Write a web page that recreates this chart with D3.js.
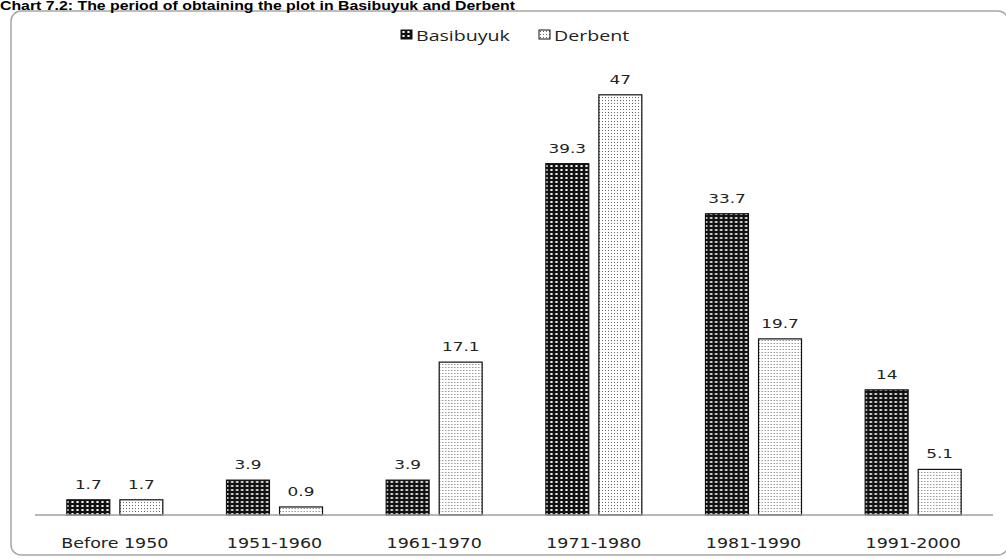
<!DOCTYPE html>
<html>
<head>
<meta charset="utf-8">
<script src="https://cdn.jsdelivr.net/npm/d3@7"></script>
<style>
  html, body { margin: 0; padding: 0; background: #fff; }
  svg { display: block; }
</style>
</head>
<body>
<div id="chart"></div>
<script>
;(function() {
  'use strict';

  var categories = ['Before 1950', '1951-1960', '1961-1970', '1971-1980', '1981-1990', '1991-2000'];
  var series = ['Basibuyuk', 'Derbent'];
  var basibuyuk = [1.7, 3.9, 3.9, 39.3, 33.7, 14];
  var derbent = [1.7, 0.9, 17.1, 47, 19.7, 5.1];
  var title = 'Chart 7.2: The period of obtaining the plot in Basibuyuk and Derbent';

  var width = 1006,
      height = 559;

  var svg = d3.select('#chart')
    .append('svg')
    .attr('width', width)
    .attr('height', height);

  var defs = svg.append('defs');

  // dark pattern: small white ovals on black
  var p1 = defs.append('pattern')
    .attr('id', 'pat-basi')
    .attr('patternUnits', 'userSpaceOnUse')
    .attr('width', 5)
    .attr('height', 4);
  p1.append('rect').attr('width', 5).attr('height', 4).attr('fill', '#111');
  p1.append('ellipse').attr('cx', 2.5).attr('cy', 2).attr('rx', 1.4).attr('ry', 1).attr('fill', '#fff');

  // light pattern: small grey dots
  var p2 = defs.append('pattern')
    .attr('id', 'pat-derb')
    .attr('patternUnits', 'userSpaceOnUse')
    .attr('width', 3)
    .attr('height', 3);
  p2.append('rect').attr('width', 3).attr('height', 3).attr('fill', '#fff');
  p2.append('rect').attr('x', 1).attr('y', 1).attr('width', 1).attr('height', 1).attr('fill', '#666');

  var fills = { 'Basibuyuk': 'url(#pat-basi)', 'Derbent': 'url(#pat-derb)' };

  // chart area frame
  svg.append('rect')
    .attr('x', 11)
    .attr('y', 11)
    .attr('width', 997)
    .attr('height', 544)
    .attr('rx', 10)
    .attr('fill', 'none')
    .attr('stroke', '#a6a6a6')
    .attr('stroke-width', 1.5);

  // title sits right above the frame
  svg.append('text')
    .attr('x', 0)
    .attr('y', 10)
    .attr('textLength', 515)
    .attr('lengthAdjust', 'spacingAndGlyphs')
    .style('font-family', 'Liberation Sans, Arial, sans-serif')
    .style('font-weight', 'bold')
    .style('font-size', '12px')
    .attr('fill', '#000')
    .text(title);

  var x0 = d3.scaleBand()
    .domain(categories)
    .range([35, 993]);

  var x1 = d3.scaleBand()
    .domain(series)
    .range([x0.bandwidth() / 2 - 48, x0.bandwidth() / 2 + 48])
    .paddingInner(0.19);

  var y = d3.scaleLinear()
    .domain([0, 50])
    .range([515, 68]);

  var rows = categories.map(function(c, i) {
    return { category: c, values: [
      { key: 'Basibuyuk', value: basibuyuk[i] },
      { key: 'Derbent', value: derbent[i] }
    ] };
  });

  var group = svg.append('g').attr('class', 'groups')
    .selectAll('g')
    .data(rows)
    .enter()
    .append('g')
    .attr('transform', function(d) { return 'translate(' + x0(d.category) + ',0)'; });

  group.selectAll('rect')
    .data(function(d) { return d.values; })
    .enter()
    .append('rect')
    .attr('x', function(d) { return x1(d.key); })
    .attr('y', function(d) { return y(d.value); })
    .attr('width', x1.bandwidth())
    .attr('height', function(d) { return y(0) - y(d.value); })
    .attr('fill', function(d) { return fills[d.key]; })
    .attr('stroke', '#111')
    .attr('stroke-width', 1.2);

  // value labels above the bars
  group.selectAll('text')
    .data(function(d) { return d.values; })
    .enter()
    .append('text')
    .attr('transform', function(d) {
      return 'translate(' + (x1(d.key) + x1.bandwidth() / 2) + ',' + (y(d.value) - 11) + ') scale(1.3,1)';
    })
    .attr('text-anchor', 'middle')
    .style('font-family', 'DejaVu Sans, sans-serif')
    .style('font-size', '13px')
    .attr('fill', '#222')
    .text(function(d) { return d.value; });

  // x axis line
  svg.append('line')
    .attr('x1', x0.range()[0])
    .attr('x2', x0.range()[1])
    .attr('y1', y(0))
    .attr('y2', y(0))
    .attr('stroke', '#a0a0a0')
    .attr('stroke-width', 1.5);

  // category labels
  svg.append('g').attr('class', 'cats')
    .selectAll('text')
    .data(categories)
    .enter()
    .append('text')
    .attr('transform', function(d) {
      return 'translate(' + (x0(d) + x0.bandwidth() / 2) + ',548) scale(1.25,1)';
    })
    .attr('text-anchor', 'middle')
    .style('font-family', 'DejaVu Sans, sans-serif')
    .style('font-size', '14px')
    .attr('fill', '#222')
    .text(function(d) { return d; });

  // legend
  var legendX = [401, 539];
  var legend = svg.append('g').attr('class', 'legend')
    .selectAll('g')
    .data(series)
    .enter()
    .append('g')
    .attr('transform', function(d, i) { return 'translate(' + legendX[i] + ',30)'; });

  legend.append('rect')
    .attr('width', 11)
    .attr('height', 9)
    .attr('fill', function(d) { return fills[d]; })
    .attr('stroke', '#111')
    .attr('stroke-width', 1);

  legend.append('text')
    .attr('transform', 'translate(15,11) scale(1.4,1)')
    .style('font-family', 'Open Sans, sans-serif')
    .style('font-size', '14px')
    .attr('fill', '#222')
    .text(function(d) { return d; });
})();
</script>
</body>
</html>
